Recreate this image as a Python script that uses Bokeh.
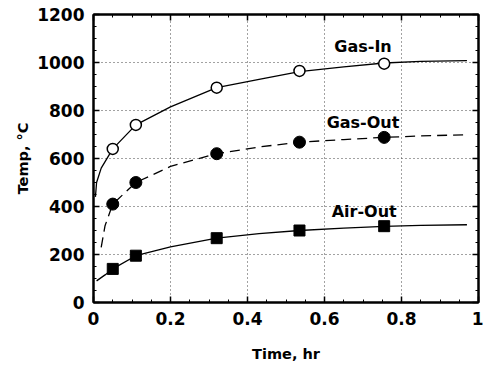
from bokeh.plotting import figure
from bokeh.embed import file_html
from bokeh.resources import INLINE
from bokeh.models import LinearAxis, FixedTicker, Label, Range1d

# ---- data ----
gas_in_t = [0.05, 0.11, 0.32, 0.535, 0.755]
gas_in_T = [640, 740, 895, 965, 995]
gas_out_t = [0.05, 0.11, 0.32, 0.535, 0.755]
gas_out_T = [410, 500, 620, 668, 688]
air_out_t = [0.05, 0.11, 0.32, 0.535, 0.755]
air_out_T = [140, 195, 268, 300, 318]

gas_in_curve_t = [0.005, 0.008, 0.02, 0.05, 0.11, 0.2, 0.32, 0.43, 0.535, 0.65, 0.755, 0.85, 0.97]
gas_in_curve_T = [440, 500, 560, 640, 740, 815, 895, 930, 962, 982, 998, 1005, 1008]
gas_out_curve_t = [0.02, 0.03, 0.05, 0.11, 0.2, 0.32, 0.43, 0.535, 0.65, 0.755, 0.85, 0.97]
gas_out_curve_T = [230, 320, 410, 500, 567, 620, 648, 668, 679, 688, 694, 699]
air_out_curve_t = [0.008, 0.03, 0.05, 0.11, 0.2, 0.32, 0.43, 0.535, 0.65, 0.755, 0.85, 0.97]
air_out_curve_T = [90, 115, 140, 195, 232, 268, 287, 300, 310, 317, 321, 324]

x_ticks = [0, 0.2, 0.4, 0.6, 0.8, 1]
x_tick_labels = {0: "0", 0.2: "0.2", 0.4: "0.4", 0.6: "0.6", 0.8: "0.8", 1: "1"}
y_ticks = [0, 200, 400, 600, 800, 1000, 1200]
x_minor = [i * 0.05 for i in range(21)]
y_minor = [i * 50 for i in range(25)]

labels = ["Gas-In", "Gas-Out", "Air-Out"]
label_x = [0.70, 0.70, 0.703]
label_y = [1066, 752, 380]

FONT = "DejaVu Sans"

p = figure(width=483, height=368, output_backend="svg", toolbar_location=None,
           x_range=Range1d(0, 1), y_range=Range1d(0, 1200),
           min_border_left=93, min_border_top=14, min_border_bottom=66, min_border_right=5,
           x_axis_label="Time, hr", y_axis_label="Temp, °C")

p.background_fill_color = "white"
p.border_fill_color = "white"
p.outline_line_color = "black"
p.outline_line_width = 2

# grid
for g, ticks in ((p.xgrid, x_ticks[1:-1]), (p.ygrid, y_ticks[1:-1])):
    g.ticker = FixedTicker(ticks=ticks)
    g.grid_line_color = "#444444"
    g.grid_line_dash = "1 3"
    g.grid_line_width = 1

def style_axis(ax, ticks, minor, show_labels):
    ax.ticker = FixedTicker(ticks=ticks, minor_ticks=minor)
    ax.axis_line_color = "black"
    ax.axis_line_width = 2
    ax.major_tick_in = 6
    ax.major_tick_out = 0
    ax.minor_tick_in = 3
    ax.minor_tick_out = 0
    ax.major_tick_line_width = 1.5
    ax.major_tick_line_color = "black"
    ax.minor_tick_line_color = "black"
    ax.major_label_text_font = FONT
    ax.major_label_text_font_style = "bold"
    ax.major_label_text_font_size = "17px"
    ax.major_label_text_color = "black"
    ax.axis_label_text_font = FONT
    ax.axis_label_text_font_style = "bold"
    ax.axis_label_text_font_size = "14.5px"
    ax.axis_label_text_color = "black"
    if not show_labels:
        ax.major_label_overrides = {t: "" for t in ticks}
        ax.major_label_standoff = 0

xa = p.xaxis[0]
ya = p.yaxis[0]
style_axis(xa, x_ticks, x_minor, True)
style_axis(ya, y_ticks, y_minor, True)
xa.major_label_overrides = x_tick_labels
xa.major_label_standoff = 9
xa.axis_label_standoff = 18
ya.major_label_standoff = 9
ya.axis_label_standoff = 3

top = LinearAxis()
right = LinearAxis()
style_axis(top, x_ticks, x_minor, False)
style_axis(right, y_ticks, y_minor, False)
p.add_layout(top, "above")
p.add_layout(right, "right")

# curves
p.line(gas_in_curve_t, gas_in_curve_T, line_color="black", line_width=1.3)
p.line(gas_out_curve_t, gas_out_curve_T, line_color="black", line_width=1.3, line_dash="10 6")
p.line(air_out_curve_t, air_out_curve_T, line_color="black", line_width=1.3)

# markers
p.scatter(gas_in_t, gas_in_T, marker="circle", size=11, fill_color="white",
          line_color="black", line_width=1.5)
p.scatter(gas_out_t, gas_out_T, marker="circle", size=12, fill_color="black",
          line_color="black")
p.scatter(air_out_t, air_out_T, marker="square", size=11, fill_color="black",
          line_color="black")

for t, lx, ly in zip(labels, label_x, label_y):
    p.add_layout(Label(x=lx, y=ly, text=t, text_align="center", text_baseline="middle",
                       text_font=FONT, text_font_style="bold",
                       text_font_size="16px", text_color="black"))

open("out.html", "w").write(file_html(p, INLINE))
